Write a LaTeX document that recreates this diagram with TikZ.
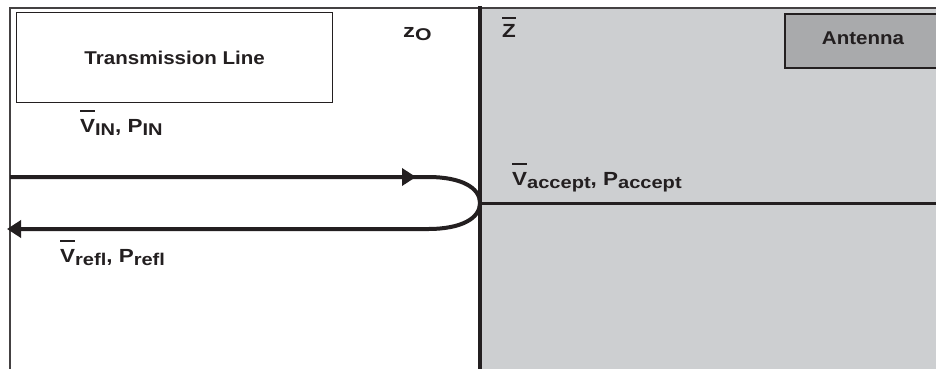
\documentclass[tikz,border=0pt]{standalone}
\usepackage{fontspec}
\usepackage{graphicx}
\setmainfont{Liberation Sans}
\usetikzlibrary{arrows.meta}
\definecolor{ink}{RGB}{35,31,32}
\definecolor{loadgray}{RGB}{205,207,209}
\definecolor{antgray}{RGB}{169,170,172}
% letter with a bar set well above it
\newcommand\barred[2][7pt]{\setbox0\hbox{#2}\vbox{\hrule height 2.2pt width\wd0\vskip #1\box0}}
% large, slightly lowered subscript
\newcommand\lowsub[1]{\raisebox{-3.5pt}{\fontsize{17}{17}\selectfont #1}}
% wide-set text
\newcommand\wide[2][1.18]{\scalebox{#1}[1]{#2}}
\begin{document}
\begin{tikzpicture}[x=1pt,y=-1pt,
  lbl/.style={font=\fontsize{19}{19}\selectfont\bfseries, text=ink, inner sep=0pt, anchor=base west},
  boxlbl/.style={font=\fontsize{18.5}{18.5}\selectfont\bfseries, text=ink},
  wave/.style={draw=ink, line width=4pt},
  tip/.style={-{Triangle[length=14pt,width=17pt]}}]
\useasboundingbox (0,0) rectangle (936,368);
\fill[white] (0,0) rectangle (936,368);

% load (antenna) side
\fill[loadgray] (480,8) rectangle (940,370);
\node[draw=ink, line width=1.5pt, fill=antgray, minimum width=160pt, minimum height=54pt,
  anchor=north west, inner sep=0pt] (ant) at (784,13) {};
\node[boxlbl] at (863,38) {\wide[1.11]{Antenna}};

% frame of the line side
\draw[ink!85, line width=1.6pt] (10,370) coordinate (fbl) -- (10,8) coordinate (ftl) -- (940,8) coordinate (ftr);

% transmission line box
\node[draw=ink, line width=1.3pt, minimum width=316pt, minimum height=90pt,
  anchor=north west, inner sep=0pt] (tl) at (16,12) {};
\node[boxlbl] at (tl.center) {\wide[1.11]{Transmission Line}};

% interface and accepted power line
\coordinate (itop) at (480,6);
\coordinate (ibot) at (480,370);
\coordinate (imid) at (480,203);
\coordinate (iend) at (940,203);
\draw[ink, line width=4pt] (itop) -- (ibot);
\draw[ink, line width=3pt] (imid) -- (iend);

% incident and reflected waves
\coordinate (inA) at (10,177);
\coordinate (inB) at (428,177);
\coordinate (outB) at (428,229);
\coordinate (outA) at (7,229);
\draw[wave, tip] (inA) -- (inB) .. controls (462,177) and (480,188) .. (imid)
  .. controls (480,218) and (462,229) .. (outB) -- (outA);
\draw[wave, tip] (395,177) -- (416,177);

% labels
\node[lbl] (zo) at (403,37) {\wide[1.25]{z\lowsub{O}}};
\node[lbl] (zbar) at (502,37) {\wide{\barred[5pt]{Z}}};
\node[lbl] (vin) at (80,132) {\wide{\barred{V}\lowsub{IN}, P\lowsub{IN}}};
\node[lbl] (vacc) at (512,185) {\wide{\barred{V}\lowsub{accept}, P\lowsub{accept}}};
\node[lbl] (vref) at (60,262) {\wide{\barred{V}\lowsub{refl}, P\lowsub{refl}}};
\end{tikzpicture}
\end{document}
